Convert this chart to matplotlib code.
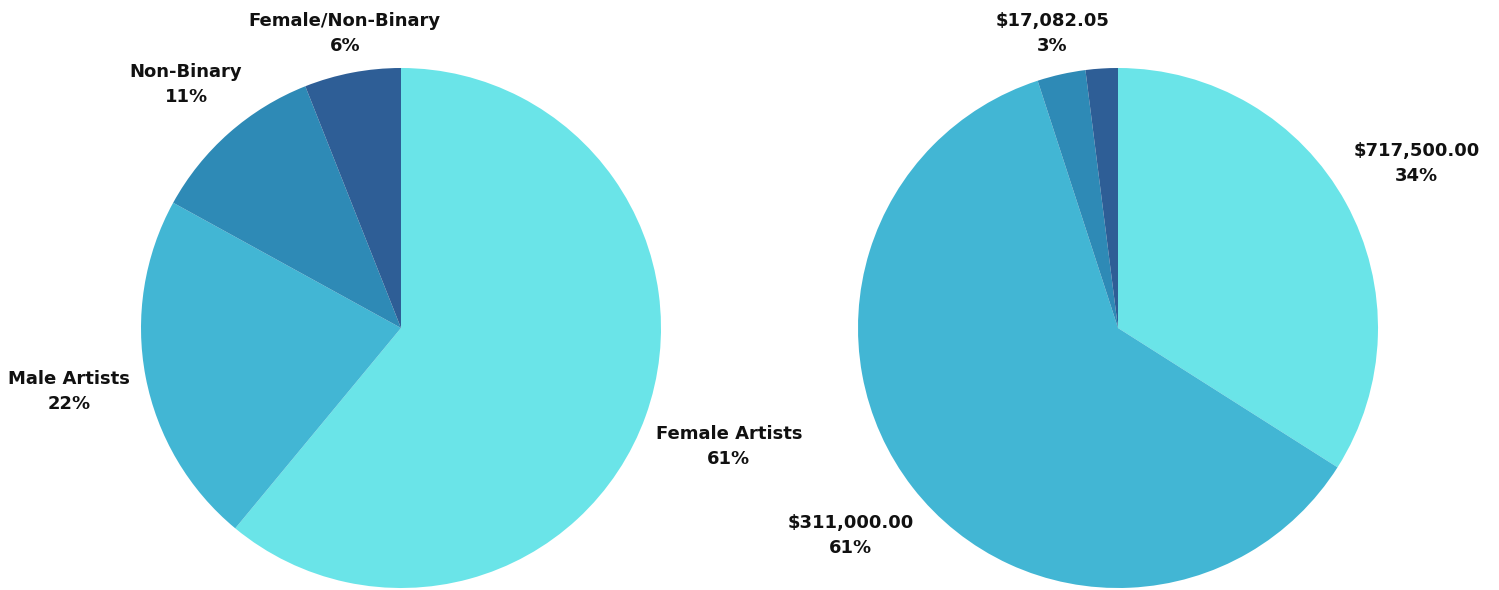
import matplotlib
matplotlib.use("Agg")
import matplotlib.pyplot as plt
import numpy as np

# left pie: artist gender split
gender_labels = ["Female Artists", "Male Artists", "Non-Binary", "Female/Non-Binary"]
gender_pct = [61, 22, 11, 6]

# right pie: funding split (last slice is unlabeled in the source)
funding_labels = ["$717,500.00", "$311,000.00", "$17,082.05", None]
funding_pct = [34, 61, 3, 2]

COLORS = ["#6ae4e8", "#42b6d4", "#2e8ab6", "#2e5e96"]

# radial distance of each label centre (in pie radii)
GENDER_LABEL_DIST = [1.34, 1.30, 1.25, 1.155]
FUNDING_LABEL_DIST = [1.31, 1.30, 1.16, 1.2]

W, H = 1499, 590
R = 260


def draw_pie(fig, cx, cy, values, labels, dists):
    ax = fig.add_axes([(cx - R) / W, (H - cy - R) / H, 2 * R / W, 2 * R / H])
    wedges, _ = ax.pie(values, colors=COLORS, startangle=90, counterclock=False,
                       radius=1.0, wedgeprops=dict(linewidth=0))
    ax.set_xlim(-1, 1)
    ax.set_ylim(-1, 1)
    ax.set_aspect("equal")
    ax.axis("off")
    for w, lab, val, d in zip(wedges, labels, values, dists):
        if lab is None:
            continue
        ang = np.deg2rad((w.theta1 + w.theta2) / 2)
        ax.text(d * np.cos(ang), d * np.sin(ang), f"{lab}\n{val}%",
                ha="center", va="center", multialignment="center",
                fontsize=13, fontweight="bold", family="DejaVu Sans",
                color="#111111", linespacing=1.5, clip_on=False)
    return ax


fig = plt.figure(figsize=(W / 100, H / 100), dpi=100)
draw_pie(fig, 401, 328, gender_pct, gender_labels, GENDER_LABEL_DIST)
draw_pie(fig, 1118, 328, funding_pct, funding_labels, FUNDING_LABEL_DIST)

fig.savefig("out.png", dpi=100, facecolor="white")
